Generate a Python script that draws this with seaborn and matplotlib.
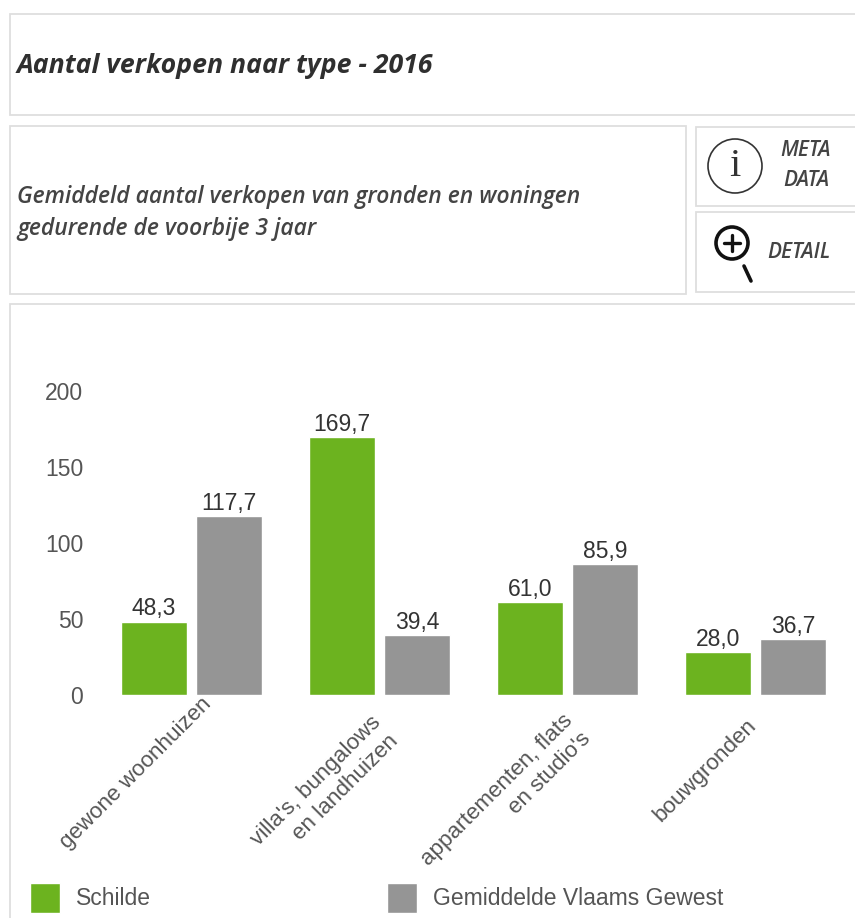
#!/usr/bin/env python
'''
Aantal verkopen naar type - 2016, bars per woning type with the dashboard boxes around it.
'''
import matplotlib
matplotlib.use('Agg')
import matplotlib.pyplot as plt
from matplotlib.patches import Circle, Rectangle
from matplotlib.transforms import ScaledTranslation
import pandas as pd
import seaborn as sns

types = ['gewone woonhuizen', "villa's, bungalows\nen landhuizen",
         "appartementen, flats\nen studio's", 'bouwgronden']
schilde = [48.3, 169.7, 61.0, 28.0]
vlaams_gewest = [117.7, 39.4, 85.9, 36.7]
series_names = ['Schilde', 'Gemiddelde Vlaams Gewest']
y_ticks = [0, 50, 100, 150, 200]

W, H = 855, 918
GREEN = '#6cb31f'
GREY = '#959595'
BOX = '#dedede'
TEXT = '#555555'
UI_FONT = ['Open Sans', 'DejaVu Sans']
CHART_FONT = ['Liberation Sans', 'DejaVu Sans']
CHART_SIZE = 16.5

# pixel offsets of the rotated labels from the tick position, per label
label_shift = [(17, -6), (7, -34), (11, -32), (-3, -27)]

sns.set_theme(style='white')
plt.rcParams['font.family'] = CHART_FONT

df = pd.DataFrame({
    'type': types * 2,
    'serie': [series_names[0]] * 4 + [series_names[1]] * 4,
    'aantal': schilde + vlaams_gewest,
})

fig = plt.figure(figsize=(W / 100, H / 100), dpi=100, facecolor='white')

# background layer in pixel coordinates for the boxes and icons
bg = fig.add_axes([0, 0, 1, 1])
bg.set_xlim(0, W)
bg.set_ylim(H, 0)
bg.axis('off')

for x0, y0, x1, y1 in [(10, 14, 870, 115), (10, 126, 686, 294), (696, 127, 870, 206),
                       (696, 212, 870, 292), (10, 304, 870, 930)]:
    bg.add_patch(Rectangle((x0, y0), x1 - x0, y1 - y0, fc='white', ec=BOX, lw=1.3))

bg.text(17, 66, 'Aantal verkopen naar type - 2016', family=UI_FONT, style='italic',
        weight='bold', fontsize=19.2, color='#2f2f2f', va='center')
bg.text(17, 197, 'Gemiddeld aantal verkopen van gronden en woningen', family=UI_FONT,
        style='italic', weight='semibold', fontsize=16.5, color='#444444', va='center')
bg.text(17, 229, 'gedurende de voorbije 3 jaar', family=UI_FONT, style='italic',
        weight='semibold', fontsize=16.5, color='#444444', va='center')

# meta data button
bg.add_patch(Circle((735, 166), 27, fc='none', ec='#333333', lw=1.2))
bg.text(735, 167, 'i', family=['Liberation Serif'], fontsize=29, color='#333333',
        ha='center', va='center')
bg.text(806, 151, 'META', family=UI_FONT, style='italic', weight='semibold', fontsize=15,
        color='#444444', ha='center', va='center')
bg.text(806, 181, 'DATA', family=UI_FONT, style='italic', weight='semibold', fontsize=15,
        color='#444444', ha='center', va='center')

# detail button
bg.add_patch(Circle((732, 243), 16, fc='none', ec='#111111', lw=2.6))
bg.plot([724, 740], [243, 243], color='#111111', lw=2.4)
bg.plot([732, 732], [235, 251], color='#111111', lw=2.4)
bg.plot([744, 751], [266, 281], color='#111111', lw=2.6)
bg.text(799, 253, 'DETAIL', family=UI_FONT, style='italic', weight='semibold', fontsize=15,
        color='#444444', ha='center', va='center')

# chart itself
ax = fig.add_axes([97 / W, 1 - 695 / H, (850 - 97) / W, (695 - 391) / H])
ax.patch.set_alpha(0)
sns.barplot(data=df, x='type', y='aantal', hue='serie', order=types, hue_order=series_names,
            palette=[GREEN, GREY], width=0.797, gap=0.12, saturation=1, ax=ax, legend=False)

ax.set_xlim(-0.5, 3.5)
ax.set_ylim(0, 200)
ax.set_yticks(y_ticks)
ax.set_xlabel('')
ax.set_ylabel('')
sns.despine(ax=ax, left=True, bottom=True)
ax.tick_params(axis='both', length=0)
ax.tick_params(axis='y', labelsize=CHART_SIZE, labelcolor=TEXT, pad=10)
ax.tick_params(axis='x', labelsize=16.1, labelcolor=TEXT, pad=0)

for lab, (dx, dy) in zip(ax.get_xticklabels(), label_shift):
    lab.set(rotation=45, ha='right', va='center', rotation_mode='anchor',
            multialignment='right', linespacing=1.3)
    lab.set_transform(lab.get_transform() + ScaledTranslation(dx / 100, dy / 100, fig.dpi_scale_trans))

for container, vals in zip(ax.containers, [schilde, vlaams_gewest]):
    ax.bar_label(container, labels=[f'{v:.1f}'.replace('.', ',') for v in vals],
                 fontsize=CHART_SIZE, color='#333333', padding=1)

handles = [Rectangle((0, 0), 1, 1, fc=GREEN), Rectangle((0, 0), 1, 1, fc=GREY)]
leg = fig.legend(handles, series_names, ncol=2, loc='lower left',
                 bbox_to_anchor=(30 / W, 1 - 910 / H), frameon=False, fontsize=CHART_SIZE,
                 labelcolor=TEXT, borderpad=0, borderaxespad=0, handlelength=1.3,
                 handleheight=1.3, handletextpad=0.7, columnspacing=10.3)
# squares are taller than the default legend box, values in points
for patch in leg.get_patches():
    patch.set_height(21.6)
    patch.set_y(-5.4)

fig.savefig('out.png', dpi=100)
